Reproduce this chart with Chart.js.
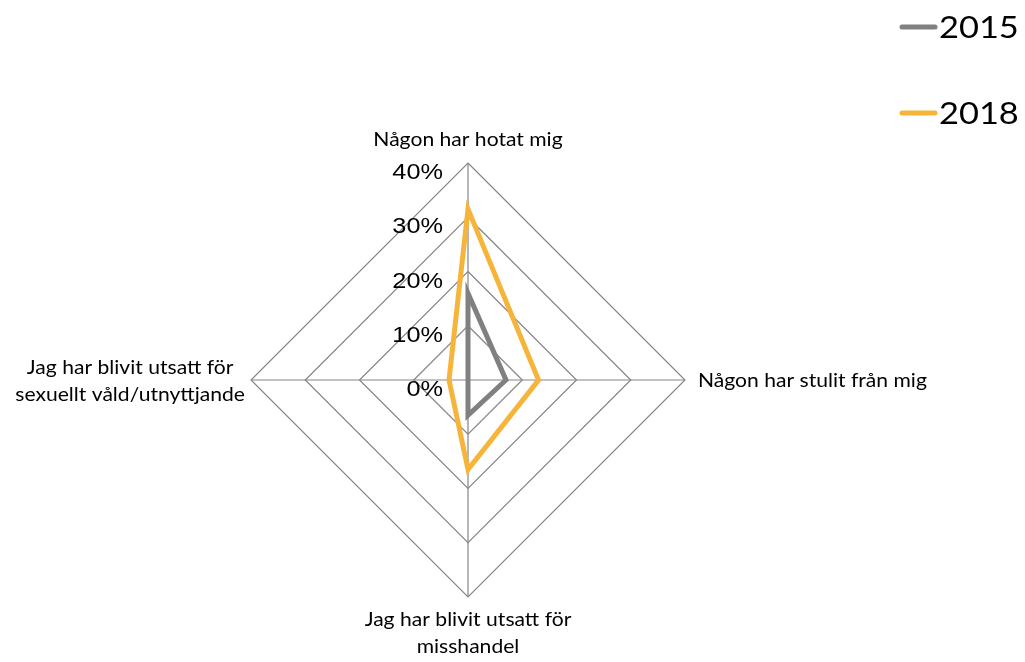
<!DOCTYPE html>
<html lang="sv">
<head>
  <meta charset="UTF-8" />
  <title>Utsatthet 2015 och 2018</title>
  <script src="https://cdn.jsdelivr.net/npm/chart.js"></script>
  <style>
    body { margin: 0; background: #fff; }
    #wrap { width: 1025px; height: 662px; }
  </style>
</head>
<body>
  <div id="wrap"><canvas id="myChart" width="1025" height="662"></canvas></div>

  <script>
    // kategorier (med radbrytningar) och värden i procent
    const categories = [
      ['Någon har hotat mig'],
      ['Någon har stulit från mig'],
      ['Jag har blivit utsatt för', 'misshandel'],
      ['Jag har blivit utsatt för', 'sexuellt våld/utnyttjande']
    ];
    const years = ['2015', '2018'];
    const values2015 = [16, 7, 6.5, 0];
    const values2018 = [31.5, 13, 16.5, 3.5];
    const tickValues = [0, 10, 20, 30, 40];

    const colors = ['#808080', '#f6b53a'];

    // text med lite bredare typsnitt (horisontell skalning sx)
    function wideText(ctx, text, x, y, align, sx) {
      const w = ctx.measureText(text).width * sx;
      let left = x;
      if (align === 'center') left = x - w / 2;
      else if (align === 'right') left = x - w;
      ctx.save();
      ctx.textAlign = 'left';
      ctx.translate(left, y);
      ctx.scale(sx, 1);
      ctx.fillText(text, 0, 0);
      ctx.restore();
      return w;
    }

    // etiketter på skalan, till vänster om den övre axeln
    const tickLabelPlugin = {
      id: 'tickLabels',
      afterDraw(chart) {
        const r = chart.scales.r;
        const ctx = chart.ctx;
        ctx.save();
        ctx.font = '22px "Liberation Sans"';
        ctx.fillStyle = '#000';
        ctx.textBaseline = 'middle';
        tickValues.forEach(v => {
          const d = r.getDistanceFromCenterForValue(v);
          wideText(ctx, v + '%', r.xCenter - 25, r.yCenter - d + 10, 'right', 1.15);
        });
        ctx.restore();
      }
    };

    // kategorinamnen vid axlarnas ändar
    const pointLabelPlugin = {
      id: 'catLabels',
      afterDraw(chart) {
        const r = chart.scales.r;
        const ctx = chart.ctx;
        const lh = 27;
        const sx = 1.11;
        ctx.save();
        ctx.font = '19px Lato';
        ctx.fillStyle = '#000';
        ctx.textBaseline = 'alphabetic';
        categories.forEach((lines, i) => {
          const p = r.getPointPositionForValue(i, r.max);
          const w = Math.max(...lines.map(t => ctx.measureText(t).width)) * sx;
          lines.forEach((t, j) => {
            if (i === 0) {
              wideText(ctx, t, p.x, p.y - 17 + j * lh, 'center', sx);
            } else if (i === 1) {
              wideText(ctx, t, p.x + 13, p.y + 7 + j * lh, 'left', sx);
            } else if (i === 2) {
              wideText(ctx, t, p.x, p.y + 29 + j * lh, 'center', sx);
            } else {
              wideText(ctx, t, p.x - 6 - w / 2, p.y - 6 + j * lh, 'center', sx);
            }
          });
        });
        ctx.restore();
      }
    };

    // förklaring uppe till höger
    const legendPlugin = {
      id: 'sideLegend',
      afterDraw(chart) {
        const ctx = chart.ctx;
        ctx.save();
        ctx.font = '31px Lato';
        ctx.textBaseline = 'middle';
        chart.data.datasets.forEach((ds, i) => {
          const y = 27 + i * 86;
          ctx.strokeStyle = ds.borderColor;
          ctx.lineWidth = 5;
          ctx.lineCap = 'round';
          ctx.beginPath();
          ctx.moveTo(902, y);
          ctx.lineTo(935, y);
          ctx.stroke();
          ctx.fillStyle = '#000';
          wideText(ctx, ds.label, 939, y + 1, 'left', 1.11);
        });
        ctx.restore();
      }
    };

    const ctx = document.getElementById('myChart').getContext('2d');
    const chart = new Chart(ctx, {
      type: 'radar',
      data: {
        labels: categories,
        datasets: [
          { label: years[0], data: values2015, borderColor: colors[0] },
          { label: years[1], data: values2018, borderColor: colors[1] }
        ].map(ds => Object.assign(ds, {
          fill: false,
          borderWidth: 5,
          borderJoinStyle: 'miter',
          pointRadius: 0,
          pointHoverRadius: 0,
          tension: 0
        }))
      },
      options: {
        responsive: false,
        animation: false,
        layout: { padding: { left: 251, right: 340, top: 163, bottom: 65 } },
        plugins: {
          legend: { display: false },
          tooltip: { enabled: false }
        },
        scales: {
          r: {
            min: 0,
            max: 40,
            ticks: { stepSize: 10, display: false },
            grid: { color: '#858585', lineWidth: 1.2 },
            angleLines: { color: '#858585', lineWidth: 1.2 },
            pointLabels: { display: false }
          }
        }
      },
      plugins: [tickLabelPlugin, pointLabelPlugin, legendPlugin]
    });
  </script>
</body>
</html>
